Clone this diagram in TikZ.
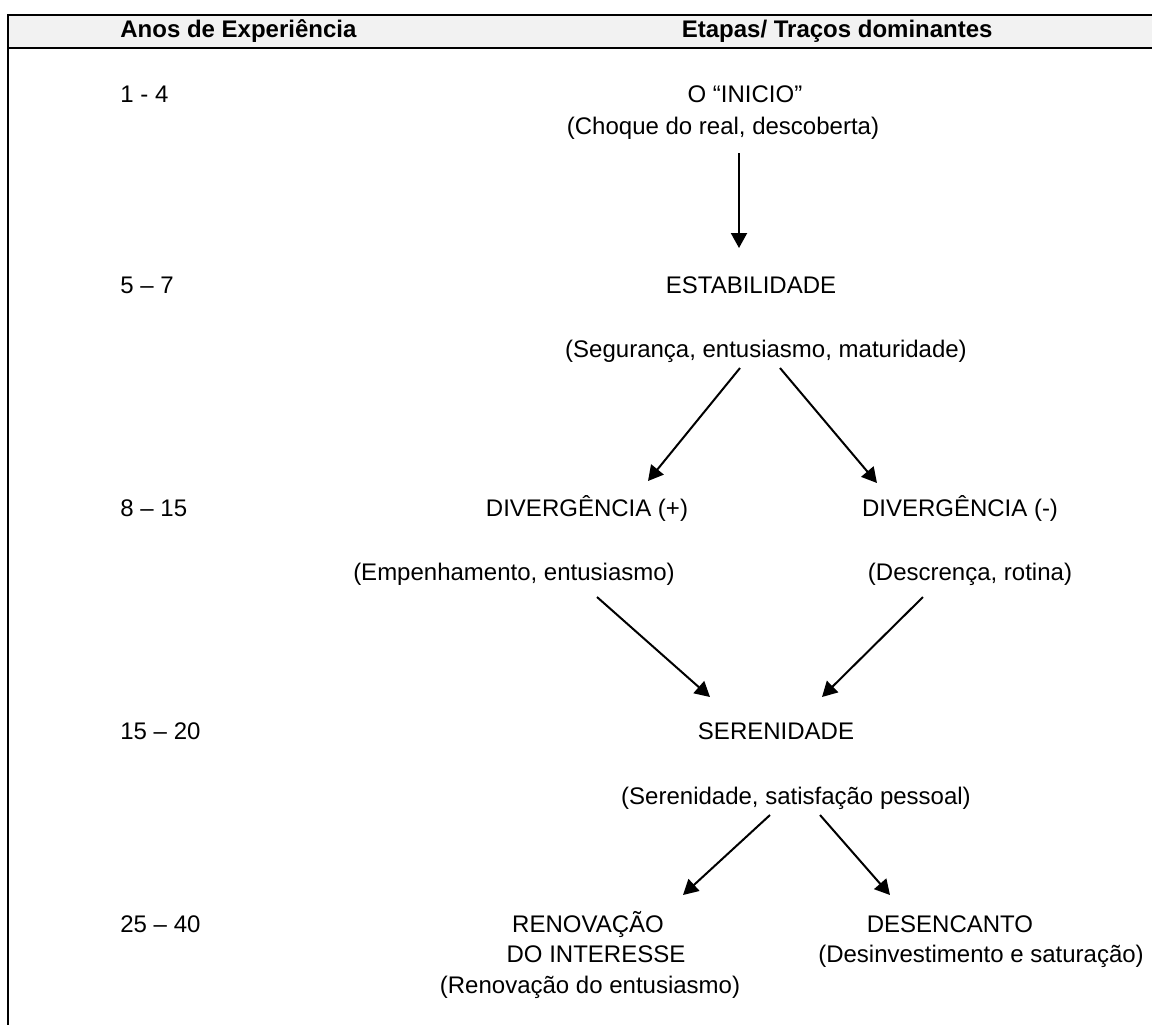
\documentclass[tikz,border=0pt]{standalone}
\usepackage{fontspec}
\setmainfont{Liberation Sans}
\usetikzlibrary{arrows.meta}
\definecolor{hdr}{HTML}{F2F2F2}
\begin{document}
\begin{tikzpicture}[x=0.5pt,y=-0.5pt,
  txt/.style={inner sep=0pt,anchor=base,font=\fontsize{12pt}{14pt}\selectfont},
  yr/.style={txt,anchor=base west},
  hd/.style={inner sep=0pt,font=\fontsize{12pt}{14pt}\selectfont\bfseries},
  arr/.style={line width=1pt,-{Triangle[length=7.5pt,width=8pt]}}]
\useasboundingbox (0,0) rectangle (1152,1025);
\fill[hdr] (8,15) rectangle (1152,48);
\draw[line width=1pt] (7,15) -- (1152,15);
\draw[line width=1pt] (8,48) -- (1152,48);
\draw[line width=1.25pt] (8,14.5) -- (8,1025);
\node[hd,anchor=base west] (h1) at (120,37) {Anos de Experiência};
\node[hd,anchor=base east] (h2) at (993,37) {Etapas/ Traços dominantes};
\node[yr] (y1) at (120,102) {1 - 4};
\node[yr] (y2) at (120,293) {5 – 7};
\node[yr] (y3) at (120,516) {8 – 15};
\node[yr] (y4) at (120,739) {15 – 20};
\node[yr] (y5) at (120,932) {25 – 40};
\node[txt] (inicio) at (745,102) {O “INICIO”};
\node[txt] (choque) at (723,134) {(Choque do real, descoberta)};
\node[txt] (estab) at (751,293) {ESTABILIDADE};
\node[txt] (segur) at (766,357) {(Segurança, entusiasmo, maturidade)};
\node[txt] (divp) at (587,516) {DIVERGÊNCIA (+)};
\node[txt] (divm) at (960,516) {DIVERGÊNCIA (-)};
\node[txt] (empen) at (514,580) {(Empenhamento, entusiasmo)};
\node[txt] (descr) at (970,580) {(Descrença, rotina)};
\node[txt] (seren) at (776,739) {SERENIDADE};
\node[txt] (satis) at (796,804) {(Serenidade, satisfação pessoal)};
\node[txt] (renov) at (588,932) {RENOVAÇÃO};
\node[txt] (inter) at (596,962) {DO INTERESSE};
\node[txt] (renent) at (590,993) {(Renovação do entusiasmo)};
\node[txt] (desen) at (950,932) {DESENCANTO};
\node[txt] (desinv) at (981,962) {(Desinvestimento e saturação)};
\coordinate (a1s) at (739,153);
\coordinate (a1e) at (739,248);
\coordinate (a2s) at (740,368);
\coordinate (a2e) at (648,481);
\coordinate (a3s) at (780,368);
\coordinate (a3e) at (877,483);
\coordinate (a4s) at (597,597);
\coordinate (a4e) at (710,697);
\coordinate (a5s) at (923,597);
\coordinate (a5e) at (822,697);
\coordinate (a6s) at (770,815);
\coordinate (a6e) at (683,895);
\coordinate (a7s) at (820,815);
\coordinate (a7e) at (890,895);
\draw[arr] (a1s) -- (a1e);
\draw[arr] (a2s) -- (a2e);
\draw[arr] (a3s) -- (a3e);
\draw[arr] (a4s) -- (a4e);
\draw[arr] (a5s) -- (a5e);
\draw[arr] (a6s) -- (a6e);
\draw[arr] (a7s) -- (a7e);
\end{tikzpicture}
\end{document}
